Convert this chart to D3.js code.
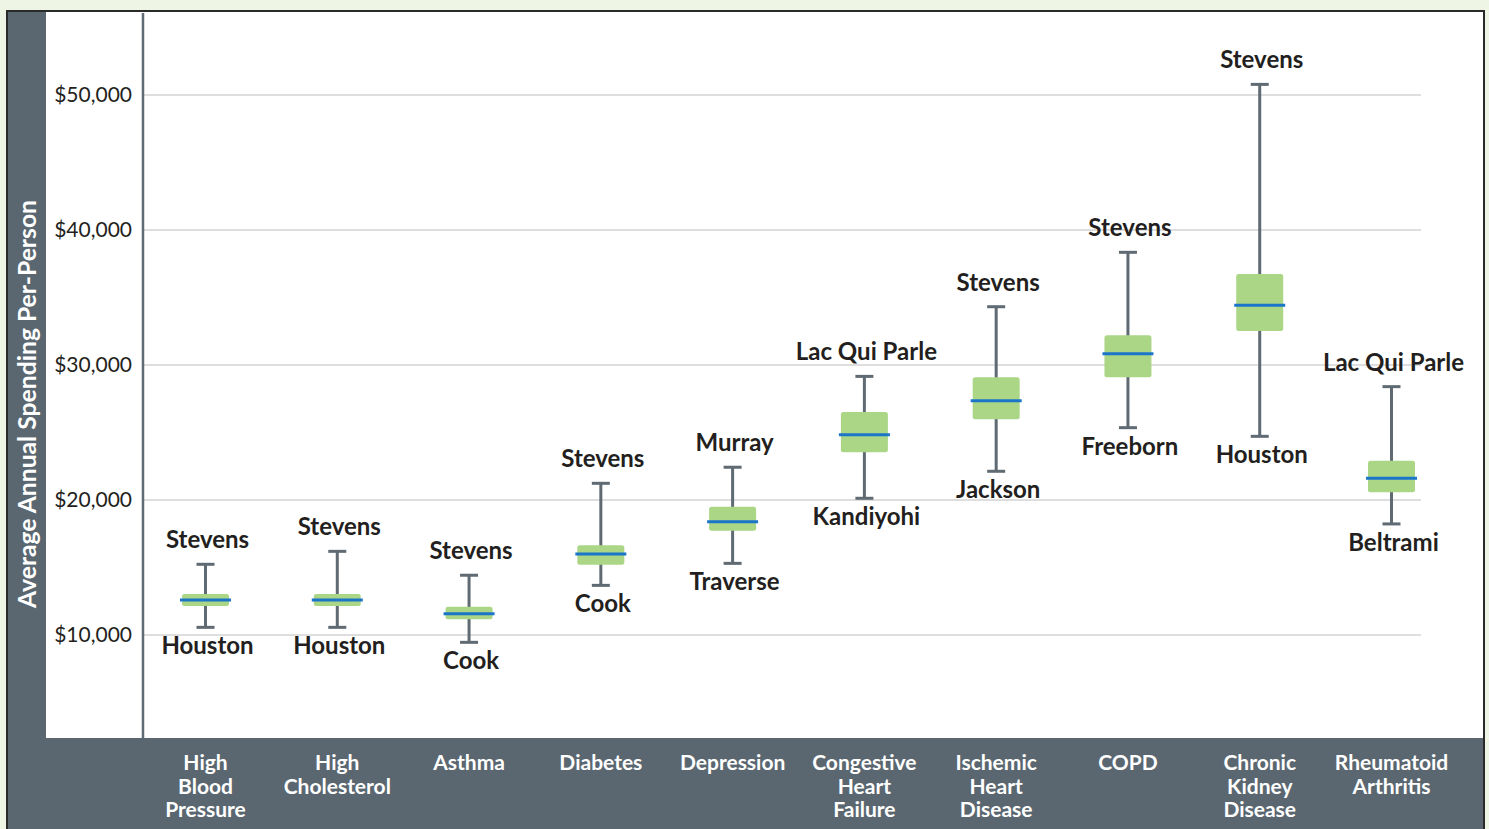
<!DOCTYPE html>
<html>
<head>
<meta charset="utf-8">
<script src="https://cdn.jsdelivr.net/npm/d3@7"></script>
<style>
  html, body { margin: 0; padding: 0; background: #eef5e5; }
  svg { display: block; font-family: Lato, "Open Sans", sans-serif; }
</style>
</head>
<body>
<svg id="chart" width="1489" height="829"></svg>
<script>
const categories = [
  "High Blood Pressure",
  "High Cholesterol",
  "Asthma",
  "Diabetes",
  "Depression",
  "Congestive Heart Failure",
  "Ischemic Heart Disease",
  "COPD",
  "Chronic Kidney Disease",
  "Rheumatoid Arthritis",
];
const whiskerHigh = [15200, 16160, 14390, 21200, 22390, 29120, 34280, 38310, 50750, 28360];
const boxHigh = [13000, 13000, 12060, 16610, 19470, 26480, 29050, 32160, 36700, 22870];
const medians = [12560, 12560, 11540, 15960, 18360, 24800, 27320, 30800, 34380, 21570];
const boxLow = [12110, 12110, 11130, 15170, 17690, 23500, 25940, 29050, 32480, 20530];
const whiskerLow = [10530, 10530, 9420, 13640, 15270, 20090, 22090, 25320, 24680, 18190];
const topCounties = ["Stevens", "Stevens", "Stevens", "Stevens", "Murray", "Lac Qui Parle", "Stevens", "Stevens", "Stevens", "Lac Qui Parle"];
const bottomCounties = ["Houston", "Houston", "Cook", "Cook", "Traverse", "Kandiyohi", "Jackson", "Freeborn", "Houston", "Beltrami"];
const yTicks = [10000, 20000, 30000, 40000, 50000];

const svg = d3.select("#chart");

const slate = "#5a6771";
const textColor = "#231f20";

// frame
svg.append("rect")
  .attr("x", 7).attr("y", 11)
  .attr("width", 1477).attr("height", 840)
  .attr("fill", slate)
  .attr("stroke", "#2a2a2a")
  .attr("stroke-width", 2);

svg.append("rect")
  .attr("x", 46).attr("y", 12)
  .attr("width", 1437).attr("height", 726)
  .attr("fill", "#fff");

const x = d3.scalePoint().domain(categories).range([205.5, 1391.5]);
const y = d3.scaleLinear().domain([10000, 50000]).range([634.5, 94.5]);

// y axis with gridlines
const yAxis = svg.append("g")
  .attr("transform", "translate(143,0)")
  .call(
    d3.axisLeft(y)
      .tickValues(yTicks)
      .tickSize(-1278)
      .tickPadding(11)
      .tickFormat(d3.format("$,"))
  );
yAxis.select(".domain").remove();
yAxis.selectAll(".tick line").attr("stroke", "#d3d3d3").attr("stroke-width", 1.5);
yAxis.selectAll(".tick text")
  .attr("fill", textColor)
  .attr("font-size", 21)
  .attr("font-family", "Lato, sans-serif");

svg.append("line")
  .attr("x1", 143).attr("x2", 143)
  .attr("y1", 13).attr("y2", 738)
  .attr("stroke", "#5f6b75")
  .attr("stroke-width", 2.5);

svg.append("text")
  .attr("transform", "translate(36,404) rotate(-90)")
  .attr("text-anchor", "middle")
  .attr("fill", "#fff")
  .attr("font-weight", "bold")
  .attr("font-size", 24.7)
  .text("Average Annual Spending Per-Person");

// boxes
const rows = categories.map((c, i) => ({
  cat: c,
  hi: whiskerHigh[i],
  q3: boxHigh[i],
  med: medians[i],
  q1: boxLow[i],
  lo: whiskerLow[i],
  top: topCounties[i],
  bottom: bottomCounties[i],
}));

const boxW = 47;
const capW = 18;
const whiskerColor = "#5f6a73";

const g = svg.append("g")
  .selectAll("g")
  .data(rows)
  .enter()
  .append("g")
  .attr("transform", (d) => `translate(${x(d.cat)},0)`);

g.append("line")
  .attr("y1", (d) => y(d.hi))
  .attr("y2", (d) => y(d.lo))
  .attr("stroke", whiskerColor)
  .attr("stroke-width", 3);

g.append("line")
  .attr("x1", -capW / 2).attr("x2", capW / 2)
  .attr("y1", (d) => y(d.hi)).attr("y2", (d) => y(d.hi))
  .attr("stroke", whiskerColor)
  .attr("stroke-width", 3);

g.append("line")
  .attr("x1", -capW / 2).attr("x2", capW / 2)
  .attr("y1", (d) => y(d.lo)).attr("y2", (d) => y(d.lo))
  .attr("stroke", whiskerColor)
  .attr("stroke-width", 3);

g.append("rect")
  .attr("x", -boxW / 2)
  .attr("width", boxW)
  .attr("y", (d) => y(d.q3))
  .attr("height", (d) => y(d.q1) - y(d.q3))
  .attr("rx", 2.5)
  .attr("fill", "#abd686");

g.append("line")
  .attr("x1", -boxW / 2 - 2).attr("x2", boxW / 2 + 2)
  .attr("y1", (d) => y(d.med)).attr("y2", (d) => y(d.med))
  .attr("stroke", "#1b75c9")
  .attr("stroke-width", 3);

g.append("text")
  .attr("text-anchor", "middle")
  .attr("x", 2)
  .attr("y", (d) => y(d.hi) - 16)
  .attr("fill", textColor)
  .attr("font-weight", "bold")
  .attr("font-size", 24)
  .text((d) => d.top);

g.append("text")
  .attr("text-anchor", "middle")
  .attr("x", 2)
  .attr("y", (d) => y(d.lo) + 27)
  .attr("fill", textColor)
  .attr("font-weight", "bold")
  .attr("font-size", 24)
  .text((d) => d.bottom);

// category labels in the bottom band
const catLabels = svg.append("g")
  .selectAll("text")
  .data(categories)
  .enter()
  .append("text")
  .attr("text-anchor", "middle")
  .attr("fill", "#fff")
  .attr("font-weight", "bold")
  .attr("font-size", 21)
  .attr("transform", (d) => `translate(${x(d)},770)`);

catLabels.selectAll("tspan")
  .data((d) => d.split(" "))
  .enter()
  .append("tspan")
  .attr("x", 0)
  .attr("y", (d, i) => i * 23.5)
  .text((d) => d);
</script>
</body>
</html>
